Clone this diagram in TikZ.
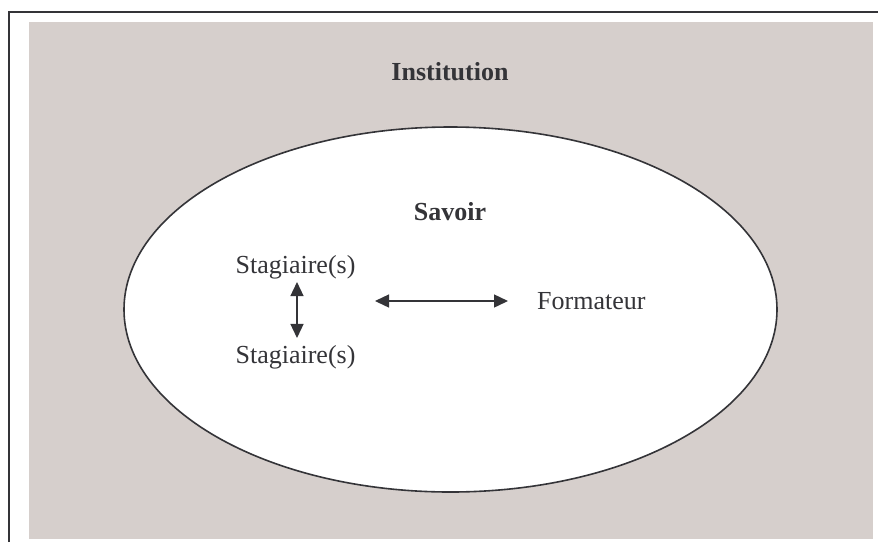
\documentclass[tikz,border=0pt]{standalone}
\usepackage{fontspec}
\setmainfont{Liberation Serif}
\usetikzlibrary{arrows.meta}
\definecolor{bggray}{RGB}{214,207,204}
\definecolor{ink}{RGB}{52,52,56}
\tikzset{
  lbl/.style={inner sep=0pt, text=ink, font=\fontsize{26}{30}\selectfont},
  boldlbl/.style={lbl, font=\fontsize{26}{30}\selectfont\bfseries},
  arr/.style={draw=ink, line width=1.4pt, {Triangle[length=14pt,width=13pt]}-{Triangle[length=14pt,width=13pt]}}
}
\begin{document}
\begin{tikzpicture}[x=1pt,y=-1pt]
\useasboundingbox (0,0) rectangle (878,542);
\fill[white] (0,0) rectangle (878,542);
% outer frame (top and left visible)
\draw[ink, line width=2pt] (9,542) -- (9,12) -- (878,12);
% institution background
\fill[bggray] (29,22) rectangle (873,539);
% knowledge ellipse
\draw[ink, fill=white, line width=1.6pt] (450.5,309.5) ellipse [x radius=326.5, y radius=182.5];
\node[boldlbl] (inst) at (450,72) {Institution};
\node[boldlbl] (sav) at (450,212) {Savoir};
\node[lbl] (s1) at (295.5,267) {Stagiaire(s)};
\node[lbl] (s2) at (295.5,357) {Stagiaire(s)};
\node[lbl, anchor=west] (f) at (537,301) {Formateur};
\coordinate (hl) at (375,301);
\draw[arr, shorten <=3pt, shorten >=7pt] ([xshift=1.5pt]s1.south) -- ([xshift=1.5pt]s2.north);
\draw[arr, shorten >=29pt] (hl) -- (f.west);
\end{tikzpicture}
\end{document}
